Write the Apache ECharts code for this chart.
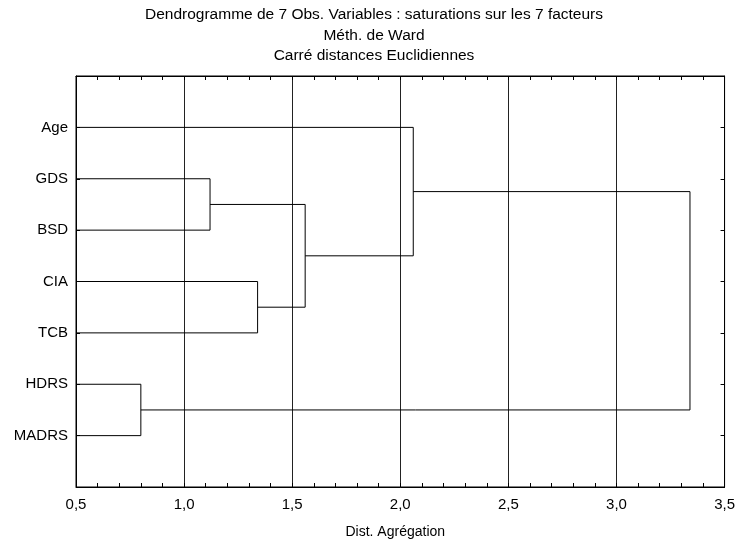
<!DOCTYPE html>
<html>
<head>
<meta charset="utf-8">
<script src="https://cdn.jsdelivr.net/npm/echarts@6/dist/echarts.min.js"></script>
<style>html,body{margin:0;padding:0;background:#fff}#c{width:738px;height:544px}</style>
</head>
<body>
<div id="c"></div>
<script>
// Leaves in display order (top to bottom)
var leaves = ['Age', 'GDS', 'BSD', 'CIA', 'TCB', 'HDRS', 'MADRS'];
// Merge steps: [left child, right child, aggregation distance]
// children: leaf names or 'M<index>' for earlier merges
var mergeLeft  = ['HDRS', 'GDS', 'CIA', 'M1', 'Age', 'M4'];
var mergeRight = ['MADRS', 'BSD', 'TCB', 'M2', 'M3', 'M0'];
var mergeDist  = [0.80, 1.12, 1.34, 1.56, 2.06, 3.34];
var xTicks = [0.5, 1.0, 1.5, 2.0, 2.5, 3.0, 3.5];
var titles = ['Dendrogramme de 7 Obs. Variables : saturations sur les 7 facteurs', 'Méth. de Ward', 'Carré distances Euclidiennes'];
var xName = 'Dist. Agrégation';

var FONT = '"Liberation Sans", Arial, sans-serif';
var xMin = xTicks[0];
var nodePos = {};
leaves.forEach(function (n, i) { nodePos[n] = [xMin, i + 1]; });
var segs = [];
for (var i = 0; i < mergeDist.length; i++) {
  var a = nodePos[mergeLeft[i]], b = nodePos[mergeRight[i]], h = mergeDist[i];
  segs.push([[a[0], a[1]], [h, a[1]], [h, b[1]], [b[0], b[1]]]);
  nodePos['M' + i] = [h, (a[1] + b[1]) / 2];
}
var series = segs.map(function (s) {
  return {
    type: 'line', data: s, symbol: 'none', silent: true, animation: false,
    lineStyle: { color: '#000', width: 1 }
  };
});

var chart = echarts.init(document.getElementById('c'), null, { renderer: 'canvas' });
var tickFmt = function (v) { return v.toFixed(1).replace('.', ','); };
var xCommon = {
  type: 'value', min: xTicks[0], max: xTicks[xTicks.length - 1], interval: 0.5,
  axisLine: { show: true, onZero: false, lineStyle: { color: '#000' } },
  axisTick: { show: true, inside: true, length: 4, lineStyle: { color: '#000' } },
  minorTick: { show: true, splitNumber: 5, length: 4, lineStyle: { color: '#000' } }
};
chart.setOption({
  animation: false,
  backgroundColor: '#fff',
  grid: { left: 76, top: 76, right: 12, bottom: 54, show: true, borderColor: '#000', borderWidth: 1, backgroundColor: 'transparent' },
  graphic: titles.map(function (t, i) {
    return { type: 'text', x: 374, y: 15 + i * 20.5, style: { text: t, font: '15.5px ' + FONT, fill: '#000', textAlign: 'center', textVerticalAlign: 'middle' } };
  }),
  xAxis: [Object.assign({}, xCommon, {
    position: 'bottom',
    name: xName, nameLocation: 'middle', nameGap: 38,
    nameTextStyle: { color: '#000', fontSize: 14, fontFamily: FONT, padding: [0, 10, 0, 0] },
    axisLabel: { color: '#000', fontSize: 15, fontFamily: FONT, margin: 10, formatter: tickFmt },
    splitLine: { show: true, lineStyle: { color: '#222', width: 1 } }
  }), Object.assign({}, xCommon, {
    position: 'top',
    axisLabel: { show: false }, splitLine: { show: false }
  })],
  yAxis: [{
    type: 'value', min: 0, max: leaves.length + 1, interval: 1, inverse: true, position: 'left',
    axisLine: { show: true, onZero: false, lineStyle: { color: '#000' } },
    axisTick: { show: true, inside: true, length: 4, lineStyle: { color: '#000' } },
    axisLabel: { color: '#000', fontSize: 15, fontFamily: FONT, margin: 8, formatter: function (v) { return leaves[v - 1] || ''; } },
    splitLine: { show: false }
  }, {
    type: 'value', min: 0, max: leaves.length + 1, interval: 1, inverse: true, position: 'right',
    axisLine: { show: true, onZero: false, lineStyle: { color: '#000' } },
    axisTick: { show: true, inside: true, length: 4, lineStyle: { color: '#000' } },
    axisLabel: { show: false }, splitLine: { show: false }
  }],
  series: series
});
</script>
</body>
</html>
